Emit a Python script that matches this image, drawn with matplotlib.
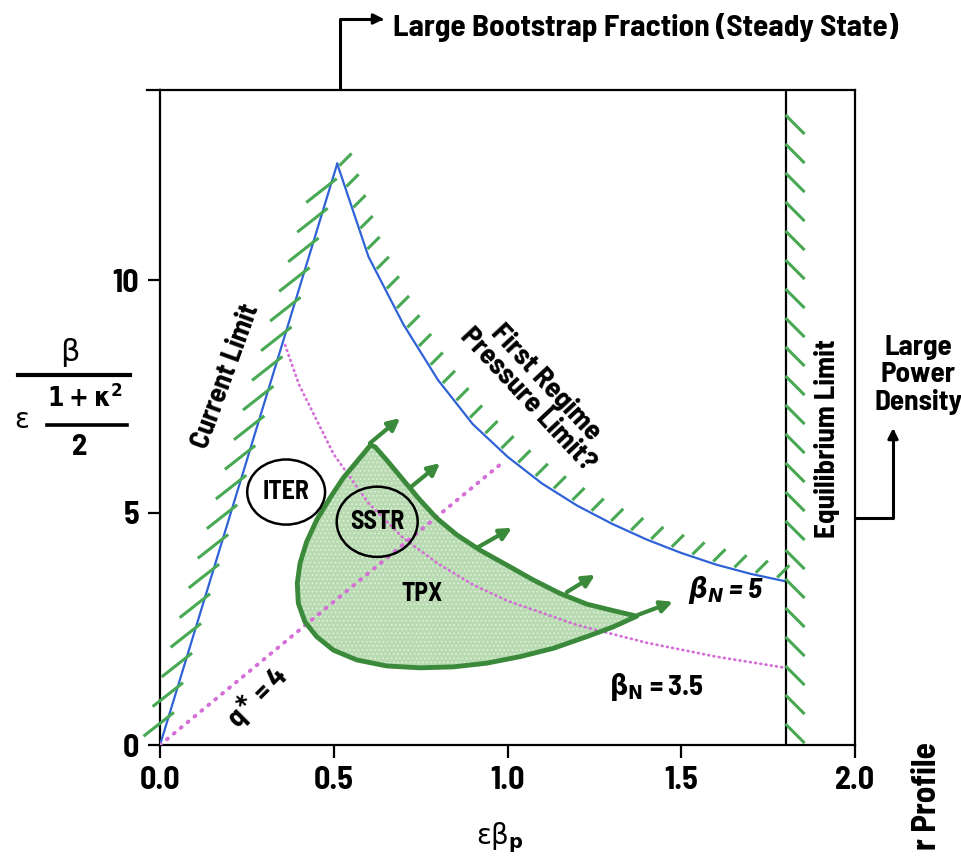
import numpy as np
import matplotlib
matplotlib.use("Agg")
import matplotlib.pyplot as plt
from matplotlib.patches import Polygon, Ellipse
from matplotlib.lines import Line2D

# --- curves (x = eps*beta_p, y = normalised beta) ---
current_x = [0.0, 0.51]
current_y = [0.0, 12.5]

pressure_x = [0.51, 0.6, 0.7, 0.8, 0.9, 1.0, 1.1, 1.2, 1.3, 1.4, 1.5, 1.6, 1.7, 1.8]
pressure_y = [12.5, 10.5, 9.05, 7.85, 6.90, 6.20, 5.62, 5.15, 4.76, 4.42, 4.13, 3.88, 3.68, 3.52]

bn35_x = [0.36, 0.4, 0.5, 0.6, 0.7, 0.8, 0.9, 1.0, 1.2, 1.4, 1.6, 1.8]
bn35_y = [8.6, 7.75, 6.25, 5.2, 4.45, 3.9, 3.45, 3.1, 2.58, 2.2, 1.9, 1.66]

qstar_x = [0.0, 0.99]
qstar_y = [0.0, 6.1]

equil_x = 1.8

# TPX operating region outline
tpx_x = [0.606, 0.566, 0.527, 0.489, 0.451, 0.422, 0.403, 0.395, 0.398, 0.417,
         0.451, 0.499, 0.566, 0.652, 0.748, 0.844, 0.940, 1.036, 1.132, 1.228,
         1.304, 1.372, 1.304, 1.228, 1.151, 1.074, 0.998, 0.921, 0.854, 0.796,
         0.748, 0.700, 0.652, 0.619]
tpx_y = [6.45, 6.09, 5.74, 5.31, 4.84, 4.37, 3.91, 3.48, 3.05, 2.65,
         2.33, 2.04, 1.83, 1.70, 1.66, 1.68, 1.76, 1.90, 2.08, 2.33,
         2.54, 2.77, 2.89, 3.03, 3.26, 3.55, 3.87, 4.19, 4.52, 4.88,
         5.27, 5.70, 6.13, 6.41]

# expansion arrows on the TPX boundary
arrow_x0 = [0.604, 0.719, 0.912, 1.171, 1.376]
arrow_y0 = [6.49, 5.53, 4.24, 3.29, 2.80]
arrow_x1 = [0.691, 0.806, 1.013, 1.252, 1.476]
arrow_y1 = [7.03, 6.06, 4.67, 3.66, 3.08]

# device ellipses
devices = ["ITER", "SSTR"]
dev_x = [0.363, 0.625]
dev_y = [5.44, 4.80]
dev_w = [0.224, 0.233]
dev_h = [1.40, 1.51]

xticks = [0.0, 0.5, 1.0, 1.5, 2.0]
yticks = [0, 5, 10]

W, H = 961, 863
BLUE = "#2f62d6"
GREEN = "#47a954"
DKGREEN = "#3b8a3b"
PINK = "#d36fd6"

plt.rcParams["font.family"] = ["Barlow Semi Condensed", "DejaVu Sans"]
plt.rcParams["font.weight"] = "bold"
plt.rcParams["mathtext.fontset"] = "custom"
plt.rcParams["mathtext.rm"] = "DejaVu Sans:weight=bold:stretch=condensed"
plt.rcParams["mathtext.it"] = "DejaVu Sans:weight=bold:slant=oblique:stretch=condensed"
plt.rcParams["mathtext.bf"] = "DejaVu Sans:weight=bold:stretch=condensed"
plt.rcParams["hatch.linewidth"] = 0.6


def fx(x):
    return x / W


def fy(y):
    return 1 - y / H


fig = plt.figure(figsize=(W / 100, H / 100), dpi=100)
ax = fig.add_axes([fx(160), fy(745), fx(855) - fx(160), fy(90) - fy(745)])
ax.set_xlim(0, 2.0)
ax.set_ylim(0, (745 - 90) / 46.5)

for s in ax.spines.values():
    s.set_linewidth(1.6)
ax.set_xticks(xticks)
ax.set_xticklabels([f"{v:.1f}" for v in xticks])
ax.set_yticks(yticks)
ax.tick_params(direction="out", length=9, width=1.6, labelsize=23, pad=6)

# limit curves
ax.plot(current_x, current_y, color=BLUE, lw=1.6, zorder=3)
ax.plot(pressure_x, pressure_y, color=BLUE, lw=1.6, zorder=3)
ax.axvline(equil_x, color="black", lw=1.6, zorder=3)
ax.plot(bn35_x, bn35_y, color=PINK, lw=2.0, ls=(0, (0.3, 1.6)),
        dash_capstyle="round", zorder=4)
ax.plot(qstar_x, qstar_y, color=PINK, lw=2.8, ls=(0, (0.3, 2.0)),
        dash_capstyle="round", zorder=4)


def hatch_along(xs, ys, step, off0, off1, first=0.0):
    pts = ax.transData.transform(np.column_stack([xs, ys]))
    seg = np.hypot(*np.diff(pts, axis=0).T)
    dist = np.concatenate([[0], np.cumsum(seg)])
    for d in np.arange(first, dist[-1], step):
        px = np.interp(d, dist, pts[:, 0])
        py = np.interp(d, dist, pts[:, 1])
        ln = Line2D([px + off0[0], px + off1[0]], [py + off0[1], py + off1[1]],
                    color=GREEN, lw=2.2, transform=None, zorder=2)
        fig.add_artist(ln)


hatch_along(current_x, current_y, 31, (4, 3), (-24, -19), first=30)
hatch_along(pressure_x, pressure_y, 22, (2, 3), (12, 13), first=4)
ymax = ax.get_ylim()[1]
hatch_along([equil_x, equil_x], [0, ymax], 29, (1, 0), (18, -17), first=20)

# TPX region
ax.add_patch(Polygon(np.column_stack([tpx_x, tpx_y]), closed=True,
                     facecolor="#b8dbb2", edgecolor="none", zorder=2))
ax.add_patch(Polygon(np.column_stack([tpx_x, tpx_y]), closed=True,
                     facecolor="none", edgecolor="#e6f3e3", lw=0, hatch="....",
                     zorder=2))
ax.add_patch(Polygon(np.column_stack([tpx_x, tpx_y]), closed=True,
                     facecolor="none", edgecolor=DKGREEN, lw=3.5,
                     joinstyle="round", zorder=5))
for x0, y0, x1, y1 in zip(arrow_x0, arrow_y0, arrow_x1, arrow_y1):
    ax.annotate("", xy=(x1, y1), xytext=(x0, y0),
                arrowprops=dict(arrowstyle="-|>,head_length=0.7,head_width=0.35",
                                color=DKGREEN, lw=3, shrinkA=0, shrinkB=0),
                zorder=6)

for name, x, y, w, h in zip(devices, dev_x, dev_y, dev_w, dev_h):
    fc = "white" if name == "ITER" else "none"
    ax.add_patch(Ellipse((x, y), w, h, facecolor=fc, edgecolor="black",
                         lw=1.8, zorder=7))
    ax.text(x, y, name, ha="center", va="center", fontsize=18.5, zorder=8)

ax.text(0.754, 3.25, "TPX", ha="center", va="center", fontsize=18.5, zorder=8)

# curve labels
ax.text(0.190, 7.94, "Current Limit", rotation=70, ha="center", va="center",
        fontsize=20.5, rotation_mode="anchor")
ax.text(1.085, 7.61, "First Regime\nPressure Limit?", rotation=-47,
        ha="center", va="center", fontsize=21, linespacing=1.0,
        rotation_mode="anchor")
ax.text(1.919, 6.58, "Equilibrium Limit", rotation=90, ha="center",
        va="center", fontsize=21)
ax.text(1.629, 3.33, r"$\beta_N$ = 5", ha="center", va="center",
        fontsize=21, style="italic")
ax.text(1.43, 1.25, r"$\mathrm{\beta_N}$ = 3.5", ha="center", va="center",
        fontsize=20.5)
ax.text(0.279, 1.03, r"q$^{\ast}$ = 4", rotation=45, ha="center", va="center",
        fontsize=21, rotation_mode="anchor")

# top annotation
ax.annotate("", xy=(fx(384), fy(19)), xycoords="figure fraction",
            xytext=(fx(340), fy(89)), textcoords="figure fraction",
            arrowprops=dict(arrowstyle="-|>,head_length=0.6,head_width=0.3",
                            color="black", lw=2.2, shrinkA=0, shrinkB=0,
                            connectionstyle="angle,angleA=90,angleB=0,rad=0"),
            annotation_clip=False)
fig.text(fx(393), fy(27), "Large Bootstrap Fraction (Steady State)",
         ha="left", va="center", fontsize=22.5)
fig.add_artist(Line2D([fx(147), fx(160)], [fy(90), fy(90)], color="black",
                      lw=1.6))

# right annotation
ax.annotate("", xy=(fx(893), fy(428)), xycoords="figure fraction",
            xytext=(fx(856), fy(518)), textcoords="figure fraction",
            arrowprops=dict(arrowstyle="-|>,head_length=0.6,head_width=0.3",
                            color="black", lw=2.2, shrinkA=0, shrinkB=0,
                            connectionstyle="angle,angleA=0,angleB=90,rad=0"),
            annotation_clip=False)
fig.text(fx(918), fy(375), "Large\nPower\nDensity", ha="center", va="center",
         fontsize=21, linespacing=1.1)

fig.text(fx(927), fy(742), "r Profile", rotation=90, ha="center", va="top",
         fontsize=24)

# axis labels
fig.text(fx(500), fy(838), r"εβ$_\mathrm{p}$", ha="center", va="center",
         fontsize=20, fontweight="normal", family="DejaVu Sans",
         math_fontfamily="dejavusans")

fig.text(fx(70), fy(352), "β", ha="center", va="center", fontsize=22,
         fontweight="normal", family="DejaVu Sans")
fig.add_artist(Line2D([fx(18), fx(130)], [fy(375), fy(375)], color="black",
                      lw=3))
fig.text(fx(22), fy(420), "ε", ha="center", va="center", fontsize=20,
         fontweight="normal", family="DejaVu Sans")
fig.text(fx(85), fy(398), r"$\mathrm{1+\kappa^2}$", ha="center", va="center",
         fontsize=19)
fig.add_artist(Line2D([fx(47), fx(127)], [fy(425), fy(425)], color="black",
                      lw=2.6))
fig.text(fx(80), fy(447), "2", ha="center", va="center", fontsize=22)

fig.savefig("out.png", dpi=100)
